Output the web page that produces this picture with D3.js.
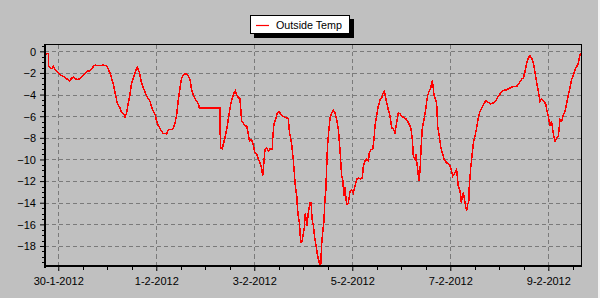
<!DOCTYPE html>
<html>
<head>
<meta charset="utf-8">
<script src="https://cdn.jsdelivr.net/npm/d3@7"></script>
<style>
  html, body { margin: 0; padding: 0; background: #c0c0c0; }
  svg { display: block; }
  text { font-family: "Liberation Sans", Arial, sans-serif; font-size: 11px; fill: #000; }
</style>
</head>
<body>
<svg id="chart" width="600" height="298"></svg>
<script>
// ---- data (hours since 30-1-2012 00:00, temperature) ----
const seriesName = "Outside Temp";
const hours = [
  -6.5,-6.0,-5.4,-4.9,-4.7,-3.7,-3.1,-2.4,-1.8,-0.8,0.8,3.3,5.4,6.5,7.4,9.0,10.6,12.3,13.9,15.5,
  17.2,18.0,20.4,22.1,23.7,24.5,25.3,26.1,27.0,27.8,28.9,30.2,31.0,32.2,32.7,33.5,34.3,35.1,35.9,37.1,
  38.1,38.7,39.7,40.8,42.0,43.3,44.9,46.1,47.4,48.2,49.0,50.1,51.4,53.1,53.9,55.5,56.3,57.2,58.0,58.8,
  59.6,60.4,61.2,62.4,63.7,64.5,65.3,66.5,67.8,68.6,69.1,79.2,79.4,80.3,81.2,82.0,82.8,83.6,84.4,85.2,
  86.1,86.7,87.4,89.0,89.5,89.8,90.6,91.4,92.3,93.1,93.6,94.7,95.5,96.3,97.2,98.0,98.8,99.6,100.1,100.7,
  101.2,102.1,102.9,103.7,104.8,105.0,105.6,106.6,107.3,108.1,109.4,110.5,111.9,112.7,113.2,113.8,114.3,115.1,115.6,116.1,
  116.8,117.1,117.6,118.1,118.7,119.4,120.0,120.5,121.0,121.7,122.5,123.3,123.8,124.3,124.9,125.7,126.5,127.0,127.9,128.5,
  129.0,129.5,130.1,130.6,131.0,131.4,131.9,132.6,133.1,133.9,134.7,135.5,136.3,137.2,138.0,138.8,139.3,139.9,140.4,141.2,
  142.1,142.9,143.7,144.5,145.3,146.1,147.0,147.8,148.9,149.4,150.2,151.0,151.9,152.3,153.2,154.0,154.6,155.1,155.9,156.7,
  157.6,158.4,159.2,159.7,160.5,161.6,162.5,163.3,164.1,164.9,165.7,166.5,167.4,167.7,169.0,170.6,171.9,172.7,173.4,173.9,
  174.7,175.2,175.5,176.0,176.7,177.2,177.6,178.3,179.1,179.9,180.8,181.6,182.4,183.2,184.0,185.3,185.8,186.6,187.4,188.3,
  189.1,190.2,191.5,192.2,193.2,194.3,195.1,195.9,196.8,197.4,198.1,198.7,199.5,200.0,200.5,201.0,201.3,202.0,202.6,203.3,
  204.1,204.9,205.7,206.5,207.4,208.2,209.5,210.6,211.8,213.1,214.4,215.5,216.7,218.0,219.6,221.2,222.9,224.5,225.8,227.0,
  227.8,228.6,229.4,230.2,231.0,231.9,232.7,233.5,234.3,235.1,235.9,236.8,237.6,238.7,239.2,240.0,240.8,241.6,242.5,243.3,
  244.1,244.9,245.7,246.5,247.4,248.2,249.0,249.8,250.6,251.4,252.3,253.1,253.9,254.7,255.5,255.8
];
const temps = [
  -0.5,-0.3,-0.2,-0.2,-1.34,-1.6,-1.6,-1.4,-1.6,-1.86,-2.17,-2.4,-2.75,-2.5,-2.4,-2.6,-2.55,-2.2,-1.86,-1.8,
  -1.4,-1.27,-1.34,-1.27,-1.34,-1.64,-2.0,-2.47,-3.09,-3.85,-4.77,-5.24,-5.64,-5.85,-6.07,-5.7,-4.77,-4.0,-2.93,-2.32,
  -1.7,-1.46,-1.95,-2.93,-3.55,-4.16,-4.62,-5.39,-5.85,-6.47,-6.87,-7.23,-7.6,-7.63,-7.23,-7.23,-7.1,-6.62,-5.85,-4.47,
  -3.39,-2.47,-2.17,-2.07,-2.3,-2.6,-3.55,-4.22,-4.62,-4.84,-5.24,-5.24,-8.92,-9.0,-8.31,-7.7,-6.87,-5.85,-4.93,-4.31,
  -3.85,-3.65,-4.1,-4.41,-5.7,-6.47,-6.62,-6.87,-6.93,-7.7,-8.31,-8.16,-8.62,-9.39,-9.54,-10.0,-10.3,-10.77,-11.54,-10.3,
  -9.08,-8.93,-9.24,-9.0,-9.08,-8.1,-6.77,-6.16,-5.7,-5.55,-5.94,-6.06,-6.16,-6.24,-7.48,-8.0,-8.62,-10.0,-11.23,-12.46,
  -13.38,-14.45,-15.37,-15.84,-17.68,-17.6,-16.9,-16.3,-14.98,-16.1,-14.9,-13.99,-13.99,-15.53,-16.1,-17.37,-18.3,-18.9,-19.6,-19.9,
  -17.8,-16.76,-15.68,-13.7,-12.9,-10.9,-8.62,-7.08,-6.16,-5.7,-5.46,-5.7,-6.31,-7.23,-9.23,-11.54,-11.8,-13.38,-12.6,-14.15,
  -14.0,-12.92,-12.8,-13.1,-12.46,-11.84,-11.7,-11.8,-11.7,-10.6,-10.15,-10.0,-10.15,-9.39,-9.08,-9.08,-8.16,-6.93,-6.0,-5.09,
  -4.47,-4.3,-3.8,-3.7,-4.47,-5.39,-6.0,-7.08,-7.17,-7.54,-6.62,-5.7,-5.76,-5.94,-6.1,-6.3,-6.77,-7.1,-8.16,-9.7,
  -10.0,-9.54,-10.16,-10.92,-12.0,-10.92,-9.23,-7.08,-6.31,-5.39,-4.16,-3.7,-3.39,-2.69,-4.0,-4.77,-6.93,-7.85,-8.92,-9.54,
  -10.06,-10.3,-10.46,-10.77,-11.54,-11.23,-10.92,-12.46,-12.92,-13.99,-13.07,-13.38,-14.3,-14.76,-14.15,-14.0,-12.46,-10.77,-9.7,-8.46,
  -7.85,-7.08,-6.16,-5.55,-5.24,-4.93,-4.53,-4.72,-4.87,-4.77,-4.53,-4.16,-3.85,-3.61,-3.55,-3.4,-3.24,-3.24,-2.93,-2.56,
  -2.47,-1.86,-1.09,-0.63,-0.41,-0.63,-1.09,-2.0,-2.93,-3.7,-4.62,-4.4,-4.62,-4.84,-5.39,-6.0,-6.93,-6.47,-7.7,-8.31,
  -8.0,-7.85,-6.31,-6.47,-5.85,-5.55,-4.77,-4.0,-3.39,-2.63,-2.17,-1.7,-1.4,-1.1,-0.32,-0.17
];
const yTicks = [0,-2,-4,-6,-8,-10,-12,-14,-16,-18];
const xTickLabels = ["30-1-2012","1-2-2012","3-2-2012","5-2-2012","7-2-2012","9-2-2012"];
const xDomainHours = [-6.5, 256.0];
const yDomain = [-19.85, 0.63];

// ---- setup ----
const base = Date.UTC(2012, 0, 30);
const toDate = h => new Date(base + h * 3600e3);
const data = hours.map((h, i) => ({ t: toDate(h), v: temps[i] }));
const xTickDates = xTickLabels.map(s => {
  const [d, m, y] = s.split("-").map(Number);
  return new Date(Date.UTC(y, m - 1, d));
});

const svg = d3.select("#chart");
const W = 600, H = 298;
const L = 45, R = 581, T = 44.5, B = 266;

svg.append("rect").attr("width", W).attr("height", H).attr("fill", "#c0c0c0");
svg.append("rect").attr("x", 598).attr("y", 0).attr("width", 2).attr("height", H).attr("fill", "#f4f4f4");

const x = d3.scaleUtc().domain(xDomainHours.map(toDate)).range([L, R]);
const y = d3.scaleLinear().domain(yDomain).range([B, T]);

// grid
const grid = svg.append("g").attr("stroke", "#7a7a7a").attr("stroke-width", 1).attr("stroke-dasharray", "4,3")
  .attr("shape-rendering", "crispEdges");
grid.selectAll(".hg").data(yTicks).join("line")
  .attr("x1", L).attr("x2", R)
  .attr("y1", d => Math.round(y(d)) + 0.5).attr("y2", d => Math.round(y(d)) + 0.5);
grid.selectAll(".vg").data(xTickDates).join("line")
  .attr("y1", T).attr("y2", B + 4)
  .attr("x1", d => Math.round(x(d)) + 0.5).attr("x2", d => Math.round(x(d)) + 0.5);

// line
svg.append("clipPath").attr("id", "clip").append("rect")
  .attr("x", L).attr("y", T).attr("width", R - L).attr("height", B - T);
const line = d3.line().x(d => x(d.t)).y(d => y(d.v)).curve(d3.curveLinear);
svg.append("path").datum(data)
  .attr("clip-path", "url(#clip)")
  .attr("fill", "none").attr("stroke", "#ff0000").attr("stroke-width", 1.5)
  .attr("stroke-linejoin", "miter")
  .attr("shape-rendering", "crispEdges")
  .attr("d", line);

// frame
svg.append("line").attr("x1", L).attr("x2", R + 1).attr("y1", 44.5).attr("y2", 44.5).attr("stroke", "#000");
svg.append("line").attr("x1", R + 0.5).attr("x2", R + 0.5).attr("y1", 44).attr("y2", B + 1).attr("stroke", "#000");

// y axis
const yAxis = d3.axisLeft(y).tickValues(yTicks).tickSize(4).tickSizeOuter(0).tickPadding(4).tickFormat(d3.format("d"));
const yg = svg.append("g").attr("transform", `translate(${L - 1},0)`).call(yAxis);
yg.select(".domain").remove();
yg.selectAll("line").attr("stroke", "#000");
const yMinor = d3.range(0.5, 19.9, 0.5).map(v => -v).concat([0.5]).filter(v => v > yDomain[0] && v < yDomain[1] && !yTicks.includes(v));
svg.append("g").selectAll("line").data(yMinor).join("line")
  .attr("x1", L - 3).attr("x2", L - 1)
  .attr("y1", d => Math.round(y(d)) + 0.5).attr("y2", d => Math.round(y(d)) + 0.5)
  .attr("stroke", "#000");
yg.selectAll("text").attr("dy", "0.35em");

// x axis
const xAxis = d3.axisBottom(x).tickValues(xTickDates).tickSize(4).tickSizeOuter(0).tickPadding(6)
  .tickFormat((d, i) => xTickLabels[i]);
const xg = svg.append("g").attr("transform", `translate(0,${B + 1})`).call(xAxis);
xg.select(".domain").remove();
xg.selectAll("line").attr("stroke", "#000");
const xMinor = d3.range(-12, 264, 12).filter(h => h % 48 !== 0).map(toDate)
  .filter(d => x(d) > L && x(d) < R);
svg.append("g").selectAll("line").data(xMinor).join("line")
  .attr("y1", B + 1).attr("y2", B + 4)
  .attr("x1", d => Math.round(x(d)) + 0.5).attr("x2", d => Math.round(x(d)) + 0.5)
  .attr("stroke", "#000");

// thick axes lines
svg.append("rect").attr("x", L - 1).attr("y", T - 0.5).attr("width", 2).attr("height", B - T + 2.5).attr("fill", "#000");
svg.append("rect").attr("x", L - 1).attr("y", B - 1).attr("width", R - L + 2).attr("height", 2).attr("fill", "#000");

// legend
const lg = svg.append("g").attr("transform", "translate(250,15)");
lg.append("rect").attr("x", 4).attr("y", 4).attr("width", 100).attr("height", 19).attr("fill", "#000");
lg.append("rect").attr("x", 0.5).attr("y", 0.5).attr("width", 99).attr("height", 18).attr("fill", "#fff").attr("stroke", "#000");
lg.append("line").attr("x1", 6).attr("x2", 19).attr("y1", 10.5).attr("y2", 10.5).attr("stroke", "#ff0000").attr("stroke-width", 1.2);
lg.append("text").attr("x", 26).attr("y", 14).attr("textLength", 66).attr("lengthAdjust", "spacingAndGlyphs").text(seriesName);
</script>
</body>
</html>
